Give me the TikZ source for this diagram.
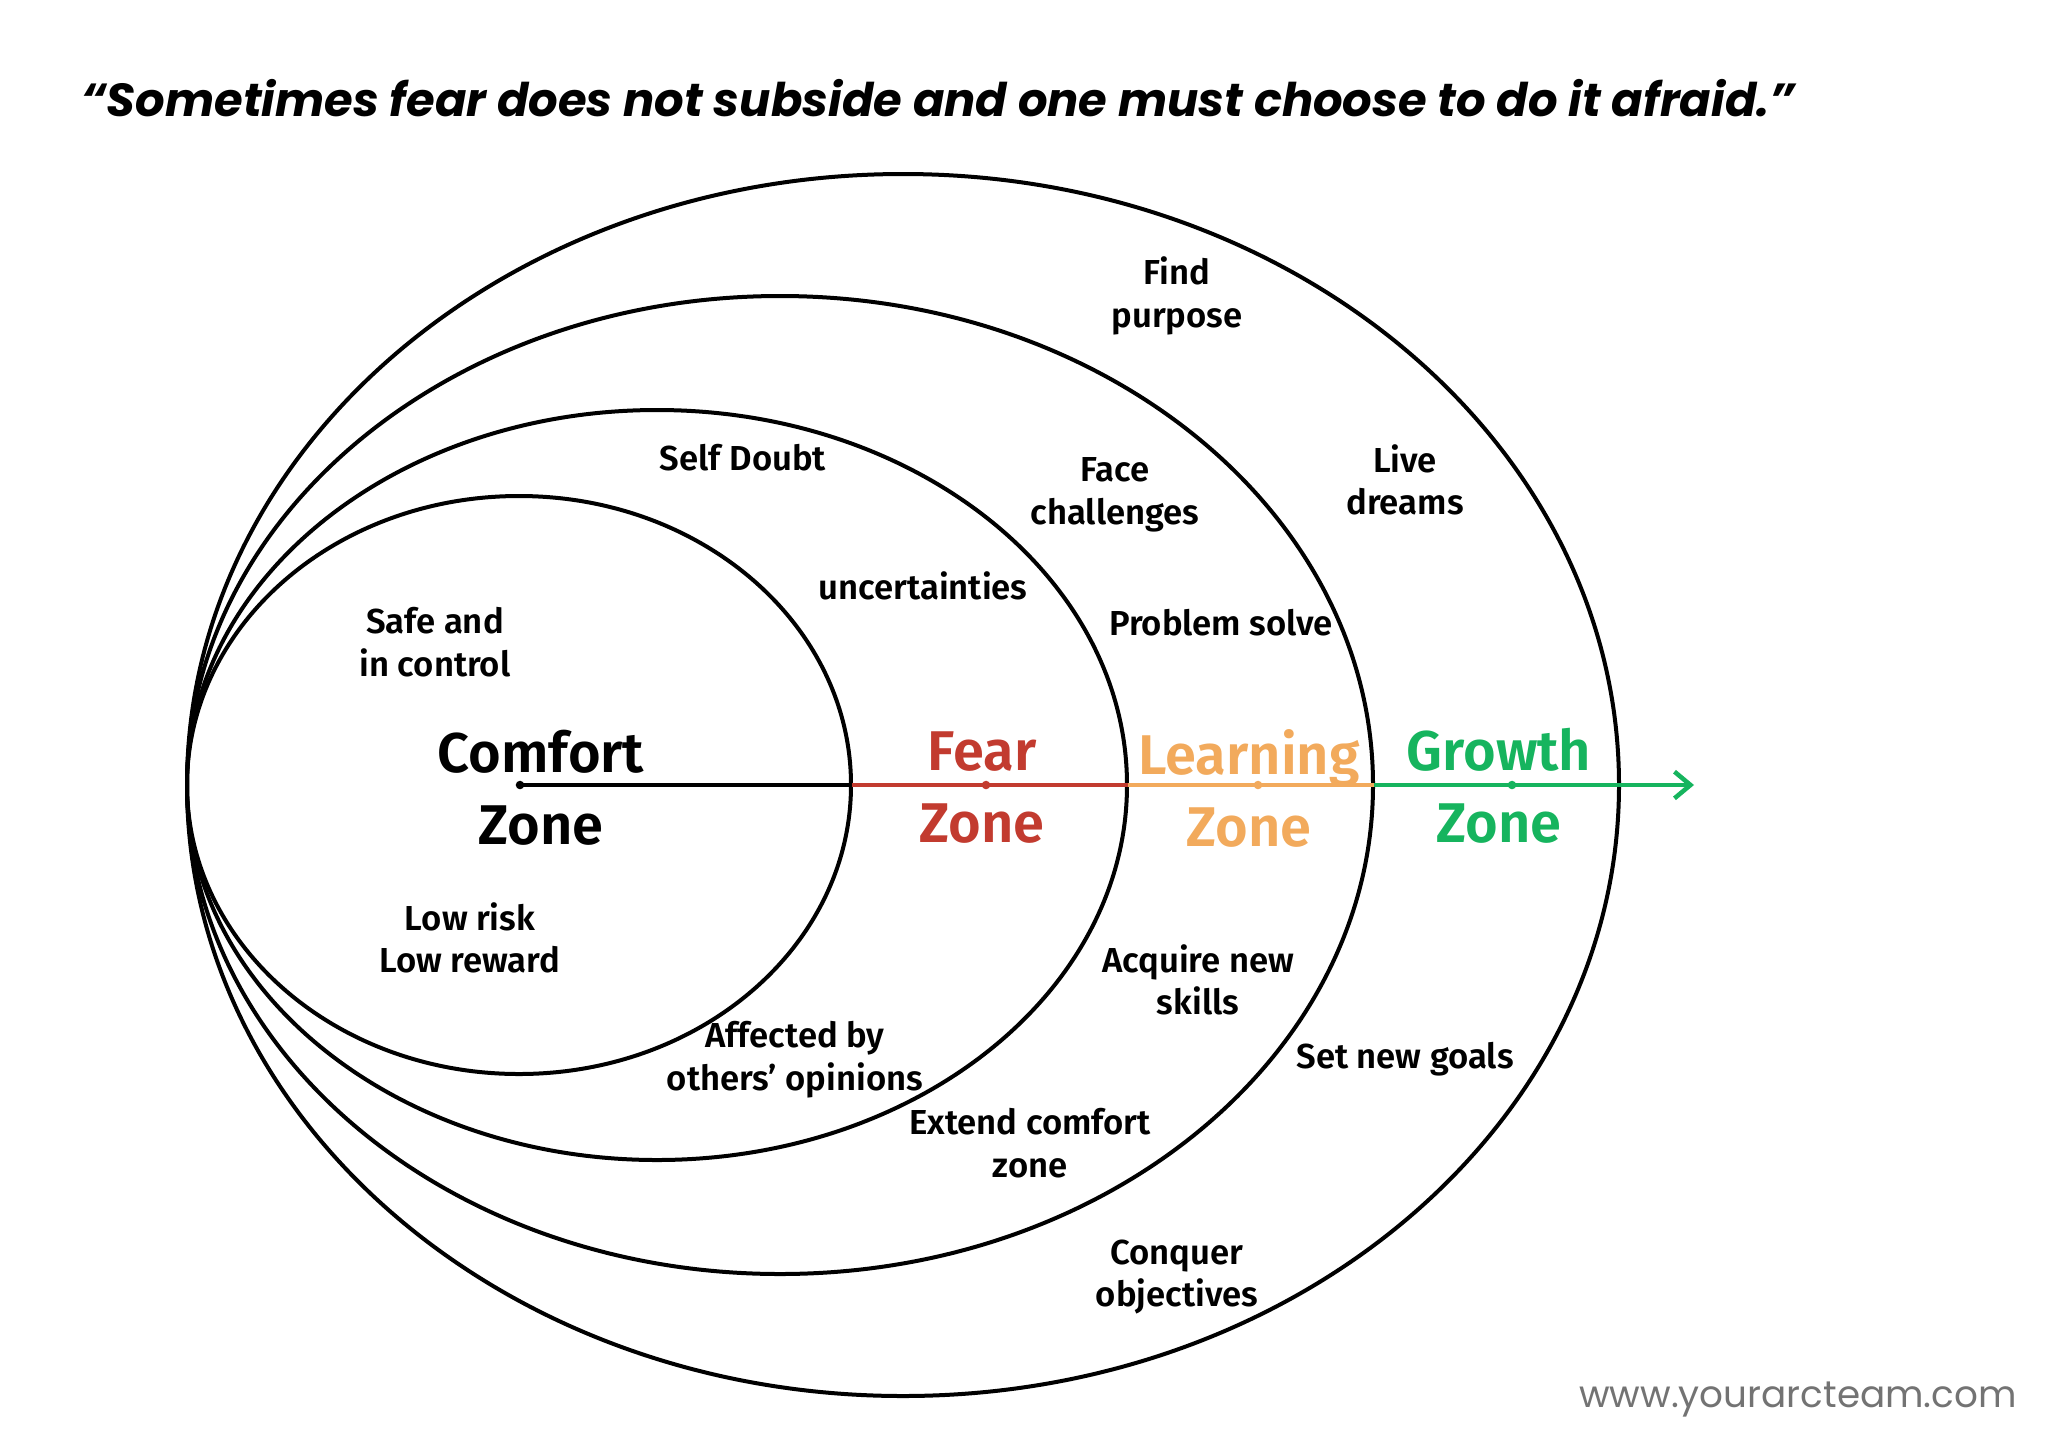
\documentclass[tikz,border=0pt]{standalone}
\usepackage{fontspec}
\setsansfont{Fira Sans}[BoldFont={Fira Sans SemiBold}]
\newfontfamily\quotefont{Poppins}
\newfontfamily\webfont{Poppins}
\usetikzlibrary{arrows.meta}
\definecolor{fearred}{HTML}{C23B2F}
\definecolor{learnorange}{HTML}{F2AA5C}
\definecolor{growgreen}{HTML}{16B45E}
\tikzset{
  ring/.style={draw, line width=1.5pt},
  note/.style={font=\sffamily\bfseries\fontsize{13}{16}\selectfont, align=center, inner sep=0pt},
  zlabel/.style={font=\sffamily\bfseries\fontsize{21}{27}\selectfont, align=center, inner sep=0pt},
  axis/.style={line width=1.7pt},
  tickdot/.style={circle, fill, inner sep=0pt, minimum size=3.2pt}
}

\begin{document}
\begin{tikzpicture}[x=0.375pt, y=-0.375pt]
\useasboundingbox (0,0) rectangle (2048,1447);
% zone rings
\draw[ring] (903,785) ellipse [x radius=716, y radius=611];
\draw[ring] (780,785) ellipse [x radius=593, y radius=489];
\draw[ring] (657,785) ellipse [x radius=470, y radius=375];
\draw[ring] (519,785) ellipse [x radius=332, y radius=289];
% axis
\coordinate (c0) at (520,785); \coordinate (c1) at (852,785); \coordinate (c2) at (1128,785);
\coordinate (c3) at (1374,785); \coordinate (c4) at (1694,785);
\draw[axis] (c0) -- (c1);
\draw[axis, fearred] (c1) -- (c2);
\draw[axis, learnorange] (c2) -- (c3);
\draw[axis, growgreen, -{Straight Barb[length=6pt, width=10pt]}] (c3) -- (c4);
\node[tickdot] (d0) at (c0) {};
\node[tickdot, fearred] (d1) at (986,785) {};
\node[tickdot, learnorange] (d2) at (1258,785) {};
\node[tickdot, growgreen] (d3) at (1512,785) {};
% zone names
\node[zlabel] (comfort) at (541,788) {Comfort\\Zone};
\node[zlabel, fearred] (fear) at (982,788) {Fear\\Zone};
\node[zlabel, learnorange] (learning) at (1249,788) {Learning\\Zone};
\node[zlabel, growgreen] (growth) at (1499,786) {Growth\\Zone};
% notes
\node[note] (purpose) at (1177,296) {Find\\purpose};
\node[note] (doubt) at (743,458) {Self Doubt};
\node[note] (face) at (1115,495) {Face\\challenges};
\node[note] (dreams) at (1405,480) {Live\\dreams};
\node[note] (uncert) at (923,586) {uncertainties};
\node[note] (solve) at (1221,623) {Problem solve};
\node[note] (safe) at (435,642) {Safe and\\in control};
\node[note] (risk) at (470,938) {Low risk\\Low reward};
\node[note] (skills) at (1198,980) {Acquire new\\skills};
\node[note] (others) at (795,1060) {Affected by\\others’ opinions};
\node[note] (goals) at (1405,1059) {Set new goals};
\node[note] (extend) at (1030,1143) {Extend comfort\\zone};
\node[note] (conquer) at (1177,1277) {Conquer\\objectives};
% quote and site
\node[font=\quotefont\bfseries\itshape\fontsize{17.4}{20}\selectfont, anchor=west, inner sep=0pt] (quote) at (81,98)
  {“Sometimes fear does not subside and one must choose to do it afraid.”};
\node[font=\webfont\fontsize{14}{16}\selectfont, text=black!55, inner sep=0pt] (site) at (1798,1399) {www.yourarcteam.com};
\end{tikzpicture}
\end{document}
